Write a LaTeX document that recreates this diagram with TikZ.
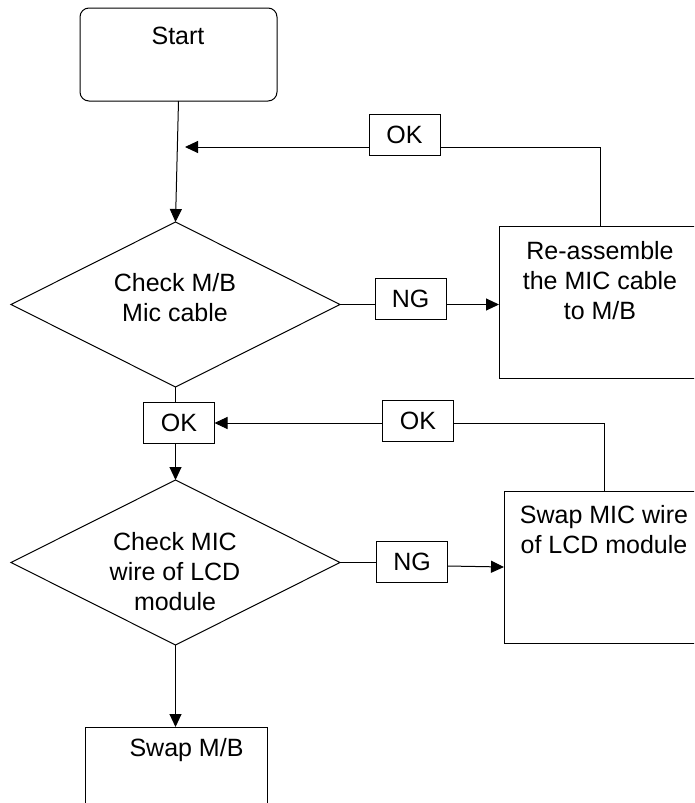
\documentclass[tikz,border=0pt]{standalone}
\usepackage{fontspec}
\setmainfont{Liberation Sans}
\usetikzlibrary{shapes.geometric,arrows.meta}
\begin{document}
\begin{tikzpicture}[x=1pt,y=-1pt,
  every node/.style={inner sep=0pt,outer sep=0pt},
  ln/.style={line width=1pt,draw=black},
  arr/.style={ln,-{Triangle[length=13pt,width=12pt]}},
  boxshape/.style={draw,line width=1pt,rectangle},
  roundbox/.style={boxshape,rounded corners=9pt},
  decision/.style={draw,line width=1pt,diamond,minimum width=329pt,minimum height=165pt},
  tag/.style={boxshape,minimum width=71pt,minimum height=41pt,font=\fontsize{25}{30}\selectfont},
  txt/.style={align=center,font=\fontsize{25}{30}\selectfont}]
\clip (0,0) rectangle (694,803);
\fill[white] (0,0) rectangle (694,803);
% shapes
\node[roundbox,minimum width=197pt,minimum height=93pt] (start) at (178.5,54.5) {};
\node[txt] (starttxt) at (178,36) {Start};
\node[decision] (d1) at (175.5,304.5) {};
\node[txt] (d1txt) at (175,298) {Check M/B\\Mic cable};
\node[boxshape,minimum width=202pt,minimum height=152pt] (reasm) at (600,302) {};
\node[txt] (reasmtxt) at (600,281) {Re-assemble\\the MIC cable\\to M/B};
\node[tag] (ok1) at (404.5,135) {OK};
\node[tag] (ng1) at (410.5,298.5) {NG};
\node[tag] (ok2) at (179,423) {OK};
\node[tag] (ok3) at (418,420.5) {OK};
\node[decision] (d2) at (175.5,562.5) {};
\node[txt] (d2txt) at (175,572) {Check MIC\\wire of LCD\\module};
\node[boxshape,minimum width=200pt,minimum height=152pt] (swapmic) at (604,567) {};
\node[txt] (swapmictxt) at (604,530) {Swap MIC wire\\of LCD module};
\node[tag] (ng2) at (412,561.5) {NG};
\node[boxshape,minimum width=182pt,minimum height=153pt] (swapmb) at (176,803.5) {};
\node[txt] (swapmbtxt) at (186.5,750) {Swap M/B};
\coordinate (tip1) at (185,147);
% connectors
\draw[arr] (start.south) -- (d1.north);
\draw[ln] (reasm.north) |- (ok1.east |- tip1);
\draw[arr] (ok1.west |- tip1) -- (tip1);
\draw[ln] (d1.east) -- (ng1.west |- d1.east);
\draw[arr] (ng1.east |- d1.east) -- (reasm.west |- d1.east);
\draw[ln] (d1.south) -- (ok2.north -| d1.south);
\draw[arr] (ok2.south -| d2.north) -- (d2.north);
\draw[ln] (swapmic.north) |- (ok3.east |- ok2.east);
\draw[arr] (ok3.west |- ok2.east) -- (ok2.east);
\draw[ln] (d2.east) -- (ng2.west |- d2.east);
\draw[arr] (ng2.east |- 0,566) -- (swapmic.west |- 0,567);
\draw[arr] (d2.south) -- (swapmb.north -| d2.south);
\end{tikzpicture}
\end{document}
